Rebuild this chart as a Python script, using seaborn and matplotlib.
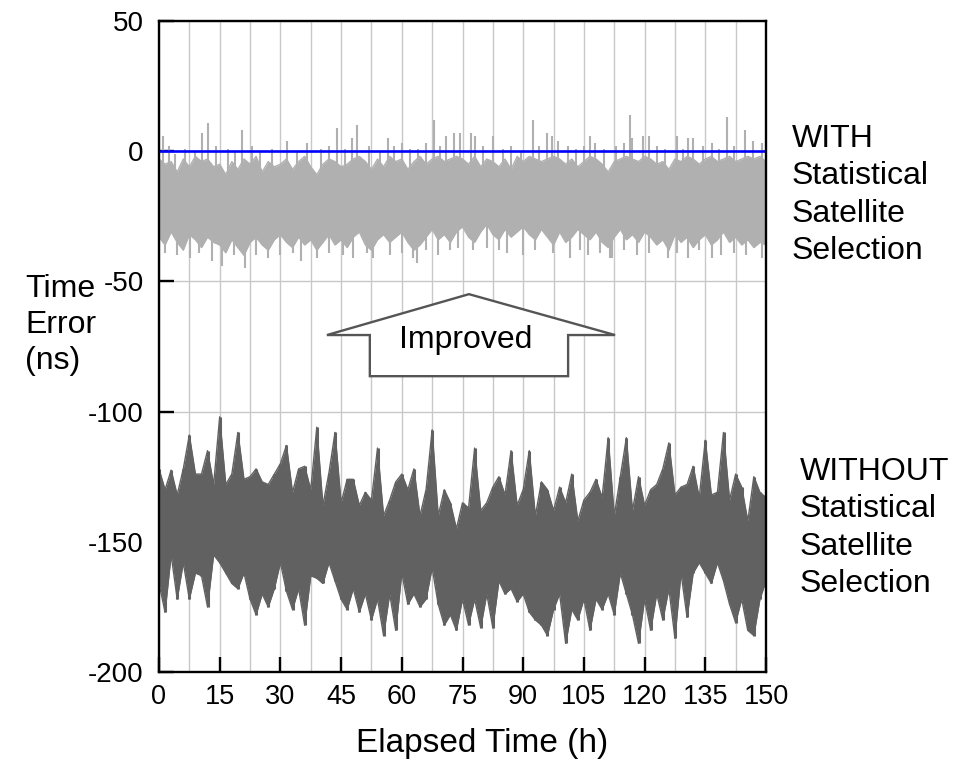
import numpy as np
import pandas as pd
import matplotlib
matplotlib.use("Agg")
import matplotlib.pyplot as plt
import seaborn as sns
from matplotlib.patches import Polygon

# ---------------- data ----------------
T_HOURS = np.linspace(0, 150, 101)          # sample times (h), every 1.5 h

# WITH statistical satellite selection: body of the light-gray trace
WITH_TOP = [-3, -5, -4, -8, -3, -6, -2, -4, -3, -6,
            -5, -9, -4, -7, -3, -5, -2, -8, -4, -6,
            -5, -3, -7, -4, -2, -6, -9, -5, -3, -4,
            -6, -5, -3, -2, -4, -7, -3, -6, -2, -4,
            -3, -7, -4, -2, -5, -3, -2, -4, -3, -2,
            -3, -5, -2, -6, -3, -4, -6, -3, -7, -2,
            -4, -2, -3, -4, -3, -2, -3, -5, -3, -6,
            -4, -2, -3, -5, -8, -4, -3, -2, -3, -4,
            -2, -3, -5, -4, -7, -3, -4, -2, -3, -5,
            -3, -2, -4, -3, -2, -4, -3, -2, -3, -2,
            -4]
WITH_BOTTOM = [-33, -36, -31, -35, -38, -32, -34, -37, -33, -35,
               -36, -39, -34, -37, -40, -35, -33, -36, -38, -34,
               -32, -35, -37, -33, -36, -34, -38, -35, -32, -36,
               -34, -37, -33, -31, -36, -38, -34, -32, -35, -33,
               -31, -35, -38, -36, -33, -30, -34, -32, -35, -31,
               -29, -33, -35, -31, -28, -32, -34, -30, -33, -31,
               -29, -32, -34, -30, -33, -36, -31, -35, -33, -30,
               -32, -34, -31, -35, -37, -33, -30, -34, -32, -35,
               -31, -33, -36, -34, -38, -32, -35, -33, -37, -34,
               -32, -36, -34, -31, -35, -33, -36, -34, -37, -35,
               -36]
# isolated upward spikes of the light trace (time h, value ns)
WITH_SPIKE_T = [1, 2.5, 4, 6.5, 9, 10.6, 12.1, 14, 17, 18.8, 20.5, 23, 25,
                28, 31.6, 34, 36.6, 40, 42, 44, 46, 47.7, 49, 52, 54.5,
                56.6, 58, 60, 62, 64, 66, 68, 69.5, 71, 73, 74.4, 77, 78,
                80, 82.5, 85, 87, 89.5, 92.4, 94, 95.9, 97, 98.6, 101, 103,
                105, 106.5, 107.7, 110, 113, 115, 116.4, 117, 119.6, 121,
                123, 125, 128, 129.5, 130.7, 132, 134.5, 136.6, 138.5,
                140.3, 142, 144.8, 146.8, 149]
WITH_SPIKE_V = [6, 2, -1, 1, 0, 7, 11, 2, 1, 0, 8, 2, 0,
                1, 4, 0, 3, 1, 2, 9, 1, 5, 10, 2, 0,
                5, 2, 3, 1, 1, 3, 12, 2, 6, 7, 7, 7, 6,
                2, 6, 1, 2, 0, 12, 2, 7, 6, 4, 2, 1,
                2, 6, 3, 1, 2, 3, 14, 5, 6, 6,
                2, 1, 6, 1, 5, 5, 2, 3, 1,
                13, 2, 8, 4, 3]
# isolated downward dips of the light trace
WITH_DIP_T = [1.5, 4.5, 7.7, 10, 13, 15.6, 18.5, 21.3, 24, 27, 30, 33, 35,
              39, 42, 45.5, 48, 51.4, 53, 57, 60, 62.8, 63.7, 66, 69, 72,
              74, 77.6, 81, 84, 86, 90, 93, 97.4, 101.6, 104, 106, 109,
              111.4, 112, 115, 118, 121, 125.8, 128, 130.7, 133.5, 136.6,
              139, 142, 145, 149]
WITH_DIP_V = [-39, -40, -41, -39, -42, -44, -40, -45, -40, -41, -40, -39, -42,
              -41, -39, -40, -41, -39, -41, -40, -39, -41, -43, -38, -40, -38,
              -37, -38, -37, -38, -39, -40, -38, -39, -41, -38, -40, -39,
              -41, -41, -38, -40, -39, -41, -39, -41, -38, -41,
              -40, -39, -40, -41]

# WITHOUT statistical satellite selection: envelope of the dark-gray trace
WITHOUT_TOP = [-122, -130, -122.5, -132, -122, -109, -124, -124, -115, -128,
               -102, -128, -124, -108, -126, -125, -122, -127, -128, -124,
               -120, -113, -131, -122, -121, -130, -106, -136, -123.5, -108,
               -135, -126, -126, -136, -131, -134, -114, -140, -134, -127,
               -124, -130, -122, -140, -130, -107, -140, -130, -135, -145,
               -135, -137, -114, -138, -135, -129, -125, -132, -115, -136,
               -130, -115, -140, -127, -130, -138, -129, -135, -124, -142,
               -134, -131, -126, -133, -110, -140, -125, -110, -138, -125,
               -136, -130, -128, -122, -112, -132, -129, -128, -121, -133,
               -111, -132, -131, -108, -134, -124, -129, -142, -125, -131,
               -133]
WITHOUT_BOTTOM = [-166, -177, -155, -172, -158, -172, -162, -163, -175, -155,
                  -158, -162, -166, -168, -162, -172, -178, -170, -175, -168,
                  -158, -169, -176, -168, -182, -163, -164, -166, -158, -165,
                  -172, -176, -168, -177, -170, -180, -172, -186, -170, -184,
                  -162, -174, -170, -175, -172, -160, -174, -182, -178, -184,
                  -172, -182, -172, -183, -170, -183, -165, -170, -168, -173,
                  -170, -177, -180, -182, -186, -176, -170, -189, -176, -180,
                  -172, -184, -172, -176, -170, -178, -162, -170, -178, -189,
                  -172, -184, -170, -180, -168, -187, -162, -179, -162, -158,
                  -162, -166, -158, -165, -174, -181, -172, -184, -186, -172,
                  -165]

REFERENCE_LEVEL = 0
X_TICKS = list(range(0, 151, 15))
X_GRID = list(np.arange(0, 150.1, 7.5))
Y_TICKS = [50, 0, -50, -100, -150, -200]

WITH_LABEL = "WITH\nStatistical\nSatellite\nSelection"
WITHOUT_LABEL = "WITHOUT\nStatistical\nSatellite\nSelection"
Y_LABEL = "Time\nError\n(ns)"
X_LABEL = "Elapsed Time (h)"
ARROW_TEXT = "Improved"

# ---------------- styling ----------------
sns.set_theme(style="white")
plt.rcParams["font.family"] = ["Liberation Sans", "DejaVu Sans"]
plt.rcParams["text.color"] = "black"

LIGHT = "#b0b0b0"
DARK = "#616161"
GRID = "#c8c8c8"

fig = plt.figure(figsize=(9.59, 7.62), dpi=100)
ax = fig.add_axes([159 / 959, 1 - 672 / 762, 607 / 959, (672 - 21) / 762])

# light trace (WITH)
ax.fill_between(T_HOURS, WITH_BOTTOM, WITH_TOP, color=LIGHT, lw=0, zorder=2)
base_top = np.interp(WITH_SPIKE_T, T_HOURS, WITH_TOP) - 3
ax.vlines(WITH_SPIKE_T, base_top, WITH_SPIKE_V, color=LIGHT, lw=1.5, zorder=2)
base_bot = np.interp(WITH_DIP_T, T_HOURS, WITH_BOTTOM) + 3
ax.vlines(WITH_DIP_T, base_bot, WITH_DIP_V, color=LIGHT, lw=1.5, zorder=2)

# dark trace (WITHOUT)
ax.fill_between(T_HOURS, WITHOUT_BOTTOM, WITHOUT_TOP, color=DARK, lw=0, zorder=2)
ax.vlines(T_HOURS, WITHOUT_BOTTOM, WITHOUT_TOP, color=DARK, lw=2.2, zorder=2)

edges = pd.DataFrame({
    "t": np.concatenate([T_HOURS] * 4),
    "v": WITH_TOP + WITH_BOTTOM + WITHOUT_TOP + WITHOUT_BOTTOM,
    "edge": (["with_top"] * 101 + ["with_bot"] * 101
             + ["without_top"] * 101 + ["without_bot"] * 101),
})
sns.lineplot(data=edges, x="t", y="v", hue="edge", units="edge",
             estimator=None, sort=False, lw=1.0, legend=False, ax=ax,
             palette={"with_top": LIGHT, "with_bot": LIGHT,
                      "without_top": DARK, "without_bot": DARK},
             zorder=2)

# zero reference line
ax.axhline(REFERENCE_LEVEL, color="#0000ff", lw=1.9, zorder=3)

# axes, grid, ticks
ax.set_xlim(0, 150)
ax.set_ylim(-200, 50)
ax.set_xticks(X_TICKS)
ax.set_xticks(X_GRID, minor=True)
ax.set_yticks(Y_TICKS)
ax.set_xticklabels([str(v) for v in X_TICKS])
ax.set_yticklabels([str(v) for v in Y_TICKS])
ax.grid(True, which="both", axis="x", color=GRID, lw=1.0, zorder=0)
ax.grid(True, which="major", axis="y", color=GRID, lw=1.0, zorder=0)
ax.set_axisbelow(True)
ax.tick_params(axis="both", which="major", direction="in", length=11,
               width=1.7, colors="black",
               bottom=True, left=True, top=False, right=False)
ax.tick_params(axis="x", which="major", pad=9, labelsize=19.5)
ax.tick_params(axis="y", which="major", pad=11, labelsize=20)
ax.tick_params(which="minor", length=0)
for s in ax.spines.values():
    s.set_color("black")
    s.set_linewidth(1.7)
    s.set_zorder(5)
ax.set_xlabel("")
ax.set_ylabel("")

# improved arrow annotation
ARROW_SHAPE = [(41.5, -70.6), (52.1, -70.6), (52.1, -86.4), (101.1, -86.4),
               (101.1, -70.6), (112.7, -70.6), (76.6, -54.9)]
ax.add_patch(Polygon(ARROW_SHAPE, closed=True, facecolor="white",
                     edgecolor="#555555", lw=1.7, zorder=4))
ax.text(75.7, -72.6, ARROW_TEXT, ha="center", va="center", fontsize=23,
        color="black", zorder=6)

# outside labels
fig.text(25 / 959, 1 - 325 / 762, Y_LABEL, ha="left", va="center",
         fontsize=23, linespacing=1.26)
fig.text(792 / 959, 1 - 124 / 762, WITH_LABEL, ha="left", va="top",
         fontsize=23, linespacing=1.32)
fig.text(800 / 959, 1 - 457 / 762, WITHOUT_LABEL, ha="left", va="top",
         fontsize=23, linespacing=1.32)
fig.text(482 / 959, 1 - 752 / 762, X_LABEL, ha="center", va="baseline",
         fontsize=24)

fig.savefig("out.png", dpi=100, facecolor="white")
